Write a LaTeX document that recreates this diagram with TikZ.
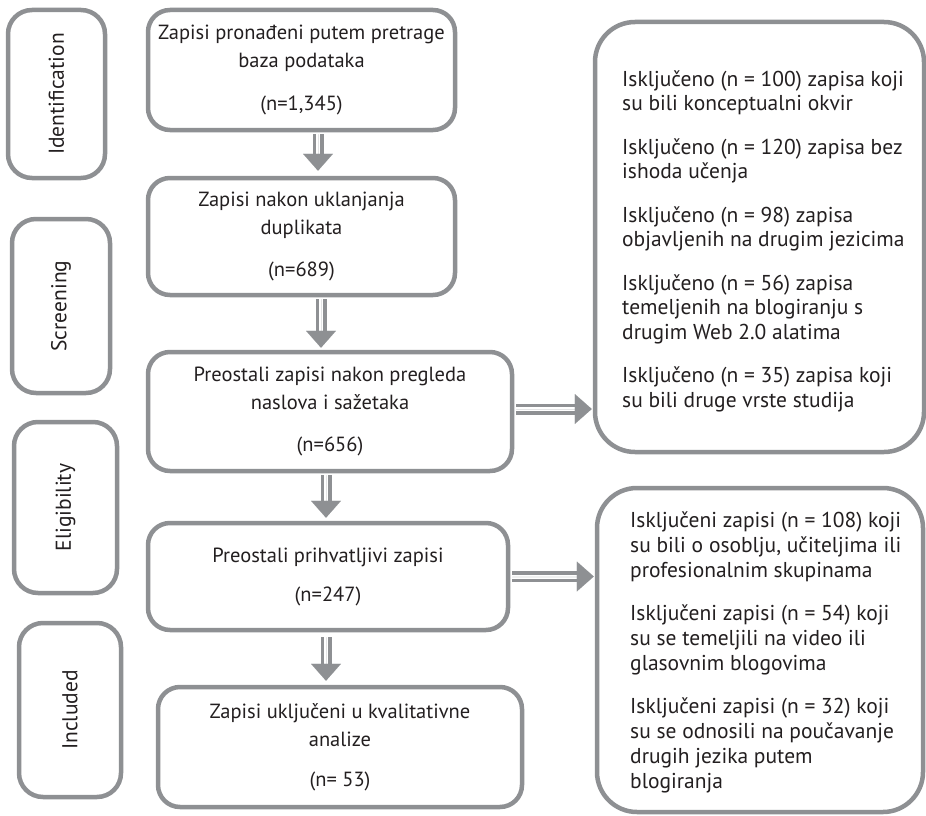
\documentclass[tikz,border=0pt]{standalone}
\usepackage{fontspec}
\setmainfont{PT Sans}
\usetikzlibrary{arrows.meta}
\definecolor{bord}{RGB}{142,144,147}
\definecolor{txt}{RGB}{35,31,32}
\begin{document}
\begin{tikzpicture}[x=1pt,y=-1pt,
  sidebox/.style={draw=bord, line width=4.5pt, rounded corners=24pt, fill=white},
  mainbox/.style={draw=bord, line width=4.5pt, rounded corners=22pt, fill=white, text=txt,
     align=center, font=\fontsize{20.5}{28}\selectfont, inner sep=0pt},
  exbox/.style={draw=bord, line width=4.5pt, rounded corners=40pt, fill=white},
  extext/.style={text=txt, align=left, anchor=west, inner sep=0pt, font=\fontsize{21.5}{24.5}\selectfont},
  sidetext/.style={text=txt, rotate=90, font=\fontsize{21.5}{24}\selectfont},
  dbl/.style={draw=bord, double=white, double distance=4pt, line width=3.5pt},
  tipa/.style={draw=bord, fill=bord, line width=0.01pt, -{Triangle[width=30pt,length=17pt]}}
]
\useasboundingbox (0,0) rectangle (926,816);

% stage boxes
\node[sidebox, minimum width=97pt, minimum height=168pt] (s1) at (56.5,94) {};
\node[sidetext] (s1t) at (s1) {Identification};
\node[sidebox, minimum width=98pt, minimum height=174pt] (s2) at (61,306) {};
\node[sidetext] (s2t) at (s2) {Screening};
\node[sidebox, minimum width=103pt, minimum height=171pt] (s3) at (65.5,507.5) {};
\node[sidetext] (s3t) at (s3) {Eligibility};
\node[sidebox, minimum width=102pt, minimum height=174pt] (s4) at (70,710) {};
\node[sidetext] (s4t) at (s4) {Included};

% main boxes
\node[mainbox, minimum width=307pt, minimum height=120pt] (b1) at (301.5,70)
  {Zapisi pronađeni putem pretrage\\baza podataka\\[15pt](n=1,345)};
\node[mainbox, minimum width=307pt, minimum height=117pt] (b2) at (301.5,236.5)
  {Zapisi nakon uklanjanja\\duplikata\\[14pt](n=689)};
\node[mainbox, minimum width=364pt, minimum height=119pt] (b3) at (330,411.5)
  {Preostali zapisi nakon pregleda\\naslova i sažetaka\\[14pt](n=656)};
\node[mainbox, minimum width=360pt, minimum height=107pt] (b4) at (328,576.5)
  {Preostali prihvatljivi zapisi\\[11pt](n=247)};
\node[mainbox, minimum width=364pt, minimum height=120pt] (b5) at (340,747)
  {Zapisi uključeni u kvalitativne\\analize\\[12pt](n= 53)};

% exclusion boxes
\node[exbox, minimum width=329pt, minimum height=430pt] (r1) at (759.5,237) {};
\node[extext] (r1t) at (622,241)
  {Isključeno (n = 100) zapisa koji\\su bili konceptualni okvir\\[19pt]
   Isključeno (n = 120) zapisa bez\\ishoda učenja\\[19pt]
   Isključeno (n = 98) zapisa\\objavljenih na drugim jezicima\\[19pt]
   Isključeno (n = 56) zapisa\\temeljenih na blogiranju s\\drugim Web 2.0 alatima\\[19pt]
   Isključeno (n = 35) zapisa koji\\su bili druge vrste studija};
\node[exbox, minimum width=326pt, minimum height=324pt] (r2) at (760,650) {};
\node[extext, font=\fontsize{21.5}{25}\selectfont] (r2t) at (630,652)
  {Isključeni zapisi (n = 108) koji\\su bili o osoblju, učiteljima ili\\profesionalnim skupinama\\[18pt]
   Isključeni zapisi (n = 54) koji\\su se temeljili na video ili\\glasovnim blogovima\\[18pt]
   Isključeni zapisi (n = 32) koji\\su se odnosili na poučavanje\\drugih jezika putem\\blogiranja};

% vertical arrows
\draw[dbl, shorten <=2pt, shorten >=21pt] ([xshift=16.5pt]b1.south) -- ([xshift=16.5pt]b2.north);
\draw[tipa, shorten <=2pt, shorten >=5pt] ([xshift=16.5pt]b1.south) -- ([xshift=16.5pt]b2.north);
\draw[dbl, shorten <=2pt, shorten >=18pt] ([xshift=19.5pt]b2.south) -- ([xshift=19.5pt]b3.north -| b2.south);
\draw[tipa, shorten <=2pt, shorten >=2pt] ([xshift=19.5pt]b2.south) -- ([xshift=19.5pt]b3.north -| b2.south);
\draw[dbl, shorten <=2pt, shorten >=19pt] ([xshift=-4pt]b3.south) -- ([xshift=-4pt]b4.north -| b3.south);
\draw[tipa, shorten <=2pt, shorten >=3pt] ([xshift=-4pt]b3.south) -- ([xshift=-4pt]b4.north -| b3.south);
\draw[dbl, shorten <=5pt, shorten >=20pt] ([xshift=-2pt]b4.south) -- ([xshift=-2pt]b5.north -| b4.south);
\draw[tipa, shorten <=5pt, shorten >=4pt] ([xshift=-2pt]b4.south) -- ([xshift=-2pt]b5.north -| b4.south);

% horizontal arrows
\draw[dbl, shorten <=2pt, shorten >=17pt] ([yshift=2.5pt]b3.east) -- ([yshift=2.5pt]b3.east -| r1.west);
\draw[tipa, shorten <=2pt, shorten >=1pt] ([yshift=2.5pt]b3.east) -- ([yshift=2.5pt]b3.east -| r1.west);
\draw[dbl, shorten <=2pt, shorten >=17pt] (b4.east) -- (b4.east -| r2.west);
\draw[tipa, shorten <=2pt, shorten >=1pt] (b4.east) -- (b4.east -| r2.west);
\end{tikzpicture}
\end{document}
